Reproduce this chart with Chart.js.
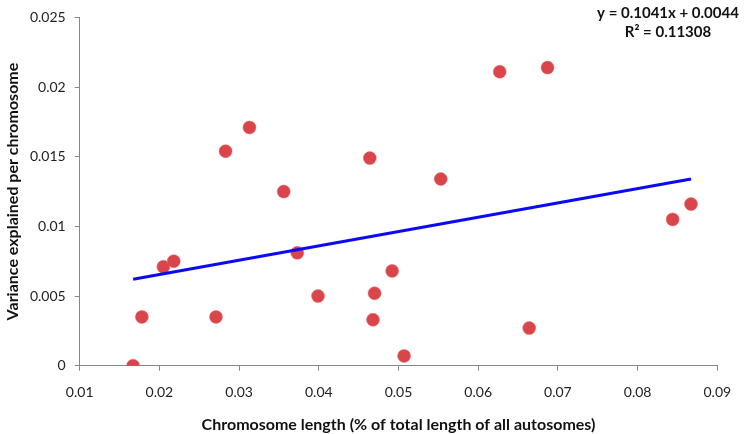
<!DOCTYPE html>
<html>
<head>
<meta charset="utf-8">
<script src="https://cdn.jsdelivr.net/npm/chart.js@4.4.0/dist/chart.umd.min.js"></script>
<style>
  html, body { margin: 0; padding: 0; background: #fff; }
  canvas { display: block; }
</style>
</head>
<body>
<canvas id="myChart" width="745" height="434"></canvas>
<script>
// chromosome length (fraction of autosome length) vs variance explained
const chromLength = [0.0167, 0.0178, 0.0205, 0.0218, 0.0271, 0.0283, 0.0313, 0.0356, 0.0373, 0.0399, 0.0464,
                     0.0468, 0.0470, 0.0492, 0.0507, 0.0553, 0.0627, 0.0687, 0.0664, 0.0844, 0.0867];
const varExplained = [0.0000, 0.0035, 0.0071, 0.0075, 0.0035, 0.0154, 0.0171, 0.0125, 0.0081, 0.0050, 0.0149,
                      0.0033, 0.0052, 0.0068, 0.0007, 0.0134, 0.0211, 0.0214, 0.0027, 0.0105, 0.0116];
// fitted trend line end points
const trendX = [0.0167, 0.0867];
const trendY = [0.0062, 0.0134];
const xTicks = ['0.01', '0.02', '0.03', '0.04', '0.05', '0.06', '0.07', '0.08', '0.09'];
const yTicks = ['0', '0.005', '0.01', '0.015', '0.02', '0.025'];
const equationText = ['y = 0.1041x + 0.0044', 'R\u00B2 = 0.11308'];

const points = chromLength.map((x, i) => ({ x: x, y: varExplained[i] }));
const trend = trendX.map((x, i) => ({ x: x, y: trendY[i] }));

const FONT = 'Lato, "Open Sans", sans-serif';
const axisGray = '#868686';

const equationPlugin = {
  id: 'equation',
  afterDatasetsDraw(chart) {
    const ctx = chart.ctx;
    ctx.save();
    ctx.fillStyle = '#111';
    ctx.font = 'bold 15px ' + FONT;
    ctx.textAlign = 'center';
    ctx.textBaseline = 'middle';
    ctx.fillText(equationText[0], 668, 13);
    ctx.fillText(equationText[1], 668, 32);
    ctx.restore();
  }
};

let myChart = document.getElementById('myChart').getContext('2d');

let scatterChart = new Chart(myChart, {
    type: 'scatter',
    data: {
        datasets: [{
            label: 'Trend',
            type: 'line',
            data: trend,
            borderColor: '#0a0af5',
            borderWidth: 3,
            pointRadius: 0,
            fill: false,
            order: 0
        }, {
            label: 'Chromosomes',
            data: points,
            backgroundColor: '#d9454a',
            borderColor: '#e0686b',
            borderWidth: 0.5,
            pointRadius: 6.5,
            order: 1
        }]
    },
    options: {
        responsive: false,
        animation: false,
        devicePixelRatio: 1,
        layout: { padding: { top: 10.7, right: 27.7, left: 0, bottom: 0 } },
        plugins: { legend: { display: false }, tooltip: { enabled: false } },
        scales: {
            x: {
                type: 'linear',
                min: 0.01,
                max: 0.09,
                afterFit: s => { s.height = 68.3; },
                afterBuildTicks: s => { s.ticks = xTicks.map(t => ({ value: parseFloat(t) })); },
                ticks: {
                    callback: (v, i) => xTicks[i],
                    font: { family: FONT, size: 14 },
                    color: '#222',
                    padding: 13,
                    maxRotation: 0
                },
                grid: { drawOnChartArea: false, drawTicks: true, tickLength: 5, color: axisGray },
                border: { display: true, color: axisGray },
                title: {
                    display: true,
                    text: 'Chromosome length (% of total length of all autosomes)',
                    font: { family: FONT, size: 16, weight: 'bold' },
                    color: '#111',
                    padding: { top: 8, bottom: 0 }
                }
            },
            y: {
                type: 'linear',
                min: 0,
                max: 0.025,
                afterFit: s => { s.width = 79.7; },
                afterBuildTicks: s => { s.ticks = yTicks.map(t => ({ value: parseFloat(t) })); },
                ticks: {
                    callback: (v, i) => yTicks[i],
                    font: { family: FONT, size: 14 },
                    color: '#222',
                    padding: 9
                },
                grid: { drawOnChartArea: false, drawTicks: true, tickLength: 5, color: axisGray },
                border: { display: true, color: axisGray },
                title: {
                    display: true,
                    text: 'Variance explained per chromosome',
                    font: { family: FONT, size: 16, weight: 'bold' },
                    color: '#111',
                    padding: { top: 3, bottom: 0 }
                }
            }
        }
    },
    plugins: [equationPlugin]
});
</script>
</body>
</html>
